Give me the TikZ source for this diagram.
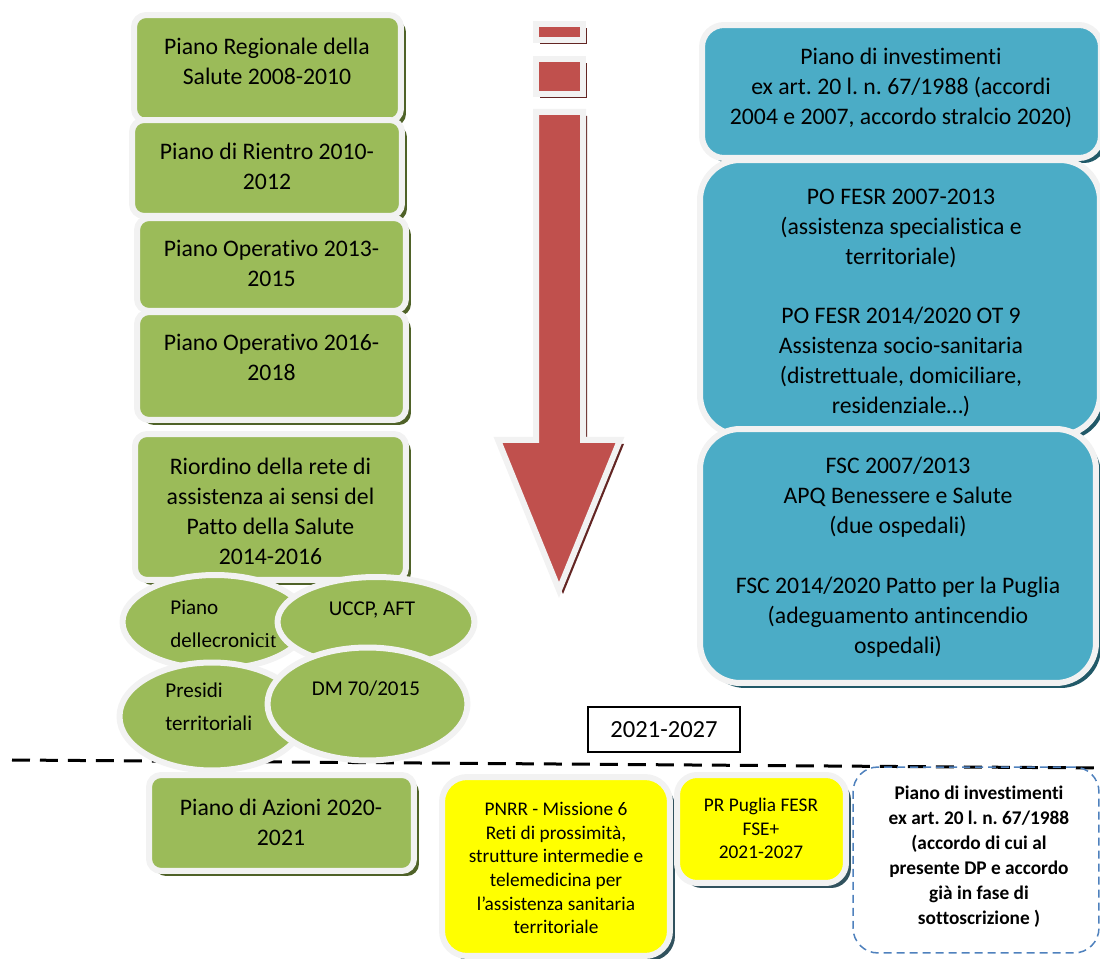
\documentclass[tikz,border=0pt]{standalone}
\usepackage{fontspec}
\setmainfont{Carlito}[Ligatures={TeX,NoCommon}]
\newfontfamily\timesfont{Liberation Serif}
\usetikzlibrary{shapes.geometric,shadows}
\frenchspacing

\definecolor{boxgreen}{HTML}{9BBB59}
\definecolor{greenshadow}{HTML}{4F6228}
\definecolor{boxblue}{HTML}{4BACC6}
\definecolor{blueshadow}{HTML}{215968}
\definecolor{boxred}{HTML}{C0504D}
\definecolor{redshadow}{HTML}{632523}
\definecolor{boxyellow}{HTML}{FFFF00}
\definecolor{yellowshadow}{HTML}{31525E}
\definecolor{dashblue}{HTML}{4F81BD}
\definecolor{ringwhite}{HTML}{F2F2F2}

\tikzset{
  ring/.style={draw=ringwhite, line width=0.12cm},
  greenbox/.style={ring, fill=boxgreen, rounded corners=0.24cm, inner sep=0pt,
    drop shadow={shadow xshift=0.1cm, shadow yshift=-0.1cm, fill=greenshadow, opacity=1}},
  bluebox/.style={ring, fill=boxblue, inner sep=0pt,
    drop shadow={shadow xshift=0.1cm, shadow yshift=-0.1cm, fill=blueshadow, opacity=1}},
  yellowbox/.style={ring, fill=boxyellow, inner sep=0pt,
    drop shadow={shadow xshift=0.1cm, shadow yshift=-0.1cm, fill=yellowshadow, opacity=1}},
  boxtext/.style={inner sep=0pt, align=center, font=\fontsize{13.5}{17.07}\selectfont},
  smalltext/.style={inner sep=0pt, align=center, font=\fontsize{11}{13.5}\selectfont},
  greenoval/.style={ring, ellipse, fill=boxgreen, inner sep=0pt},
  ovaltext/.style={inner sep=0pt, font=\fontsize{12}{18.8}\selectfont}
}

\begin{document}
\begin{tikzpicture}[x=0.02cm, y=-0.02cm]
  \useasboundingbox (0,0) rectangle (1100,959);

  % separation between the two periods
  \coordinate (sep-left) at (12,760);
  \coordinate (sep-right) at (1100,768);
  \draw[black, line width=0.06cm, dash pattern=on 0.36cm off 0.2cm] (sep-left) -- (sep-right);

  % left column
  \node (prs) [greenbox, minimum width=5.34cm, minimum height=2.12cm] at (267.5,68) {};
  \node (prs-text) [boxtext] at (267,61) {Piano Regionale della\\Salute 2008-2010};
  \node (rientro) [greenbox, minimum width=5.4cm, minimum height=1.92cm] at (267,168) {};
  \node (rientro-text) [boxtext] at (267,166) {Piano di Rientro 2010-\\2012};
  \node (op-2013) [greenbox, minimum width=5.38cm, minimum height=1.86cm] at (271.5,264.5) {};
  \node (op-2013-text) [boxtext] at (271.5,263) {Piano Operativo 2013-\\2015};
  \node (op-2016) [greenbox, minimum width=5.38cm, minimum height=2.16cm] at (271.5,366) {};
  \node (op-2016-text) [boxtext] at (271.5,357.5) {Piano Operativo 2016-\\2018};
  \node (riordino) [greenbox, minimum width=5.42cm, minimum height=2.92cm] at (270.5,507) {};
  \node (riordino-text) [boxtext] at (270.5,511) {Riordino della rete di\\assistenza ai sensi del\\Patto della Salute\\2014-2016};

  \node (cronicita) [greenoval, minimum width=3.7cm, minimum height=1.88cm] at (215,622) {};
  \node (cronicita-text) [ovaltext, anchor=west, align=left] at (170,624) {Piano\\dellecroni{\timesfont cit}};
  \node (uccp) [greenoval, minimum width=3.94cm, minimum height=1.8cm] at (376,622) {};
  \node (uccp-text) [ovaltext] at (372,610) {UCCP, AFT};
  \node (presidi) [greenoval, minimum width=3.7cm, minimum height=2.16cm] at (212,716.5) {};
  \node (presidi-text) [ovaltext, anchor=west, align=left] at (165,707) {Presidi\\territoriali};
  \node (dm) [greenoval, minimum width=4cm, minimum height=2.26cm] at (367.5,704) {};
  \node (dm-text) [ovaltext] at (366,689) {DM 70/2015};

  % time arrow
  \path[ring, fill=boxred, drop shadow={shadow xshift=0.08cm, shadow yshift=-0.08cm, fill=redshadow, opacity=1}]
    (536,24) rectangle (583,40);
  \path[ring, fill=boxred, drop shadow={shadow xshift=0.08cm, shadow yshift=-0.08cm, fill=redshadow, opacity=1}]
    (536,59) rectangle (583,94);
  \path[ring, fill=boxred, line join=miter, drop shadow={shadow xshift=0.08cm, shadow yshift=-0.08cm, fill=redshadow, opacity=1}]
    (536,112) -- (583,112) -- (583,440) -- (620,440) -- (559,590) -- (498,440) -- (536,440) -- cycle;

  % right column
  \node (invest) [bluebox, rounded corners=0.44cm, minimum width=7.98cm, minimum height=2.66cm] at (901.5,91.5) {};
  \node (invest-text) [boxtext] at (901,88) {Piano di investimenti\\ex art. 20 l. n. 67/1988 (accordi\\2004 e 2007, accordo stralcio 2020)};
  \node (po-fesr) [bluebox, rounded corners=0.8cm, minimum width=8cm, minimum height=5.5cm] at (900,297.5) {};
  \node (po-fesr-text) [boxtext] at (901,303) {PO FESR 2007-2013\\(assistenza specialistica e\\territoriale)\\[17pt]PO FESR 2014/2020 OT 9\\Assistenza socio-sanitaria\\(distrettuale, domiciliare,\\residenziale…)};
  \node (fsc) [bluebox, rounded corners=0.8cm, minimum width=7.92cm, minimum height=5.08cm] at (898,556) {};
  \node (fsc-text) [boxtext] at (898,557) {FSC 2007/2013\\APQ Benessere e Salute\\(due ospedali)\\[17pt]FSC 2014/2020 Patto per la Puglia\\(adeguamento antincendio\\ospedali)};

  \node (years) [draw=black, line width=0.03cm, fill=white, minimum width=3.04cm, minimum height=0.9cm, font=\fontsize{14}{17}\selectfont] at (664,729.5) {2021-2027};

  % 2021-2027
  \node (azioni) [greenbox, minimum width=5.3cm, minimum height=1.92cm] at (281.5,823) {};
  \node (azioni-text) [boxtext] at (281,822) {Piano di Azioni 2020-\\2021};
  \node (pnrr) [yellowbox, rounded corners=0.5cm, minimum width=4.56cm, minimum height=3.58cm] at (556,866.5) {};
  \node (pnrr-text) [smalltext] at (556,868) {PNRR - Missione 6\\Reti di prossimità,\\strutture intermedie e\\telemedicina per\\l’assistenza sanitaria\\territoriale};
  \node (pr-puglia) [yellowbox, rounded corners=0.4cm, minimum width=3.38cm, minimum height=2.16cm] at (761.5,829) {};
  \node (pr-puglia-text) [smalltext] at (761,828.5) {PR Puglia FESR\\FSE+\\2021-2027};
  \node (invest-new) [draw=dashblue, line width=0.03cm, dash pattern=on 0.16cm off 0.1cm, rounded corners=0.5cm, inner sep=0pt, minimum width=4.92cm, minimum height=3.72cm] at (976,860) {};
  \node (invest-new-text) [smalltext, font=\bfseries\fontsize{11}{14.2}\selectfont] at (979,856.5) {Piano di investimenti\\ex art. 20 l. n. 67/1988\\(accordo di cui al\\presente DP e accordo\\già in fase di\\sottoscrizione )};
\end{tikzpicture}
\end{document}
